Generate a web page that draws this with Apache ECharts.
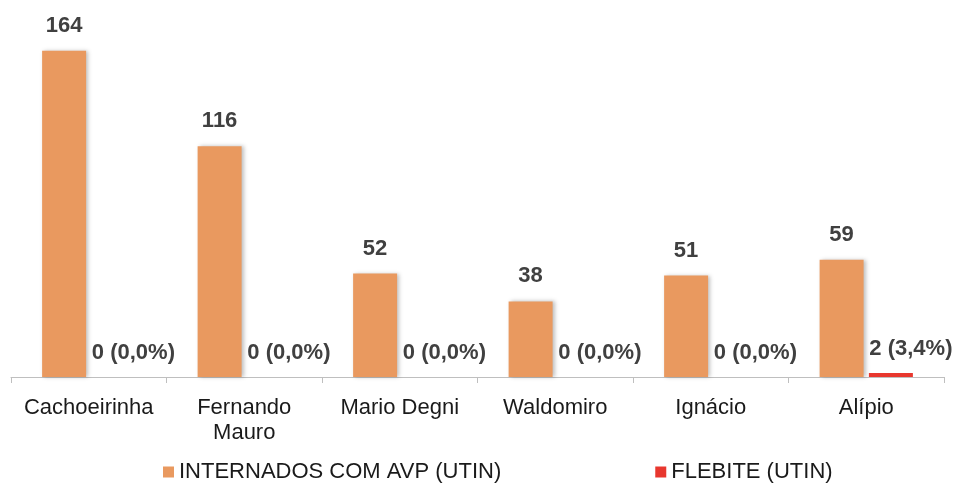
<!DOCTYPE html>
<html>
<head>
<meta charset="utf-8">
<script src="https://cdn.jsdelivr.net/npm/echarts@6/dist/echarts.min.js"></script>
<style>
  html, body { margin: 0; padding: 0; background: #fff; }
  #chart { width: 958px; height: 485px; }
</style>
</head>
<body>
<div id="chart"></div>
<script>
var categories = ['Cachoeirinha', 'Fernando\nMauro', 'Mario Degni', 'Waldomiro', 'Ignácio', 'Alípio'];
var internados = [164, 116, 52, 38, 51, 59];
var flebite = [0, 0, 0, 0, 0, 2];
var flebitePct = ['0,0%', '0,0%', '0,0%', '0,0%', '0,0%', '3,4%'];
var seriesNames = ['INTERNADOS COM AVP (UTIN)', 'FLEBITE (UTIN)'];

var myChart = echarts.init(document.getElementById('chart'));

var fontFam = 'Liberation Sans, Arial, sans-serif';

option = {
    animation: false,
    textStyle: { fontFamily: fontFam },
    grid: { left: 11, right: 14, top: 19, bottom: 108 },
    legend: {
        left: 158,
        top: 456,
        itemWidth: 11,
        itemHeight: 11,
        itemGap: 154,
        icon: 'rect',
        textStyle: { fontSize: 22, color: '#1a1a1a', fontFamily: fontFam },
        data: seriesNames
    },
    xAxis: {
        type: 'category',
        data: categories,
        axisLine: { lineStyle: { color: '#bfbfbf', width: 1 } },
        axisTick: { show: true, length: 6, lineStyle: { color: '#bfbfbf' } },
        axisLabel: {
            fontSize: 22,
            color: '#1a1a1a',
            margin: 18,
            lineHeight: 25,
            interval: 0,
            fontFamily: fontFam
        }
    },
    yAxis: {
        type: 'value',
        min: 0,
        max: 180,
        show: false,
        splitLine: { show: false }
    },
    series: [
        {
            name: seriesNames[0],
            type: 'bar',
            data: internados,
            barWidth: 44,
            barGap: '12%',
            itemStyle: {
                color: '#E9995F',
                shadowColor: 'rgba(0,0,0,0.25)',
                shadowBlur: 4,
                shadowOffsetX: 2
            },
            label: {
                show: true,
                position: 'top',
                distance: 14,
                fontSize: 22,
                fontWeight: 'bold',
                color: '#404040',
                fontFamily: fontFam
            }
        },
        {
            name: seriesNames[1],
            type: 'bar',
            data: flebite,
            barWidth: 44,
            itemStyle: { color: '#E8372E' },
            label: {
                show: true,
                position: 'top',
                distance: 13,
                offset: [20, 0],
                fontSize: 22,
                fontWeight: 'bold',
                color: '#404040',
                fontFamily: fontFam,
                formatter: function (p) {
                    return p.value + ' (' + flebitePct[p.dataIndex] + ')';
                }
            }
        }
    ]
};

myChart.setOption(option);
</script>
</body>
</html>
